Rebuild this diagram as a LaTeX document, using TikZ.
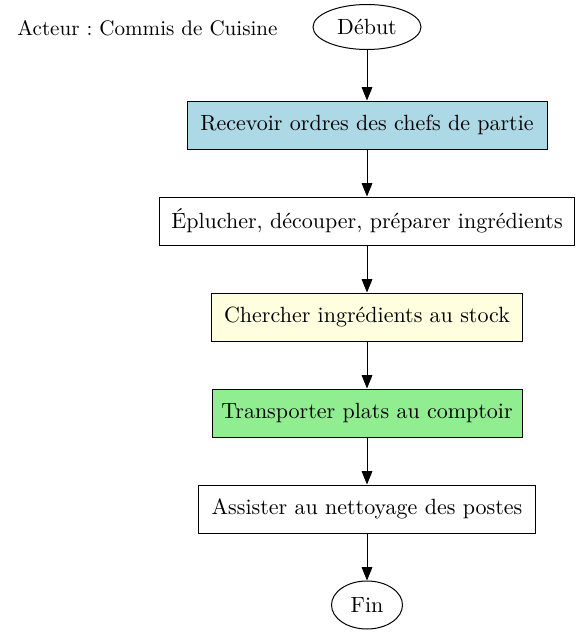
\documentclass[tikz,border=0pt]{standalone}
\usepackage{fontspec}
\setmainfont{lmroman10-regular.otf}
\frenchspacing
\usetikzlibrary{arrows.meta,shapes.geometric}
\definecolor{lblue}{RGB}{173,216,230}
\definecolor{lyellow}{RGB}{255,255,224}
\definecolor{lgreen}{RGB}{144,238,144}
\tikzset{
  every node/.style={font=\fontsize{16.5}{19}\selectfont},
  label text/.style={font=\fontsize{15.8}{19}\selectfont},
  stepbox/.style={draw=black, line width=0.75pt, rectangle, inner sep=0pt, minimum height=36pt},
  oval/.style={draw=black, line width=0.75pt, ellipse, inner sep=0pt},
  flow/.style={line width=0.75pt, -{Triangle[length=10pt,width=8pt]}}
}
\begin{document}
\begin{tikzpicture}[x=0.75pt,y=-0.75pt]
\useasboundingbox (0,0) rectangle (580,635);
\node[label text, anchor=center] (actor) at (147.5,28) {Acteur : Commis de Cuisine};
\node[oval, minimum width=81pt, minimum height=33.75pt] (debut) at (367,27) {Début};
\node[stepbox, fill=lblue, minimum width=270pt] (b1) at (367,125) {Recevoir ordres des chefs de partie};
\node[stepbox, minimum width=311.25pt] (b2) at (367,221) {Éplucher, découper, préparer ingrédients};
\node[stepbox, fill=lyellow, minimum width=233.25pt] (b3) at (367,317) {Chercher ingrédients au stock};
\node[stepbox, fill=lgreen, minimum width=232.5pt] (b4) at (367,413) {Transporter plats au comptoir};
\node[stepbox, minimum width=252.75pt] (b5) at (367,509) {Assister au nettoyage des postes};
\node[oval, minimum width=53.25pt, minimum height=36pt] (fin) at (367,605) {Fin};
\draw[flow] (debut) -- (b1);
\draw[flow] (b1) -- (b2);
\draw[flow] (b2) -- (b3);
\draw[flow] (b3) -- (b4);
\draw[flow] (b4) -- (b5);
\draw[flow] (b5) -- (fin);
\end{tikzpicture}
\end{document}
